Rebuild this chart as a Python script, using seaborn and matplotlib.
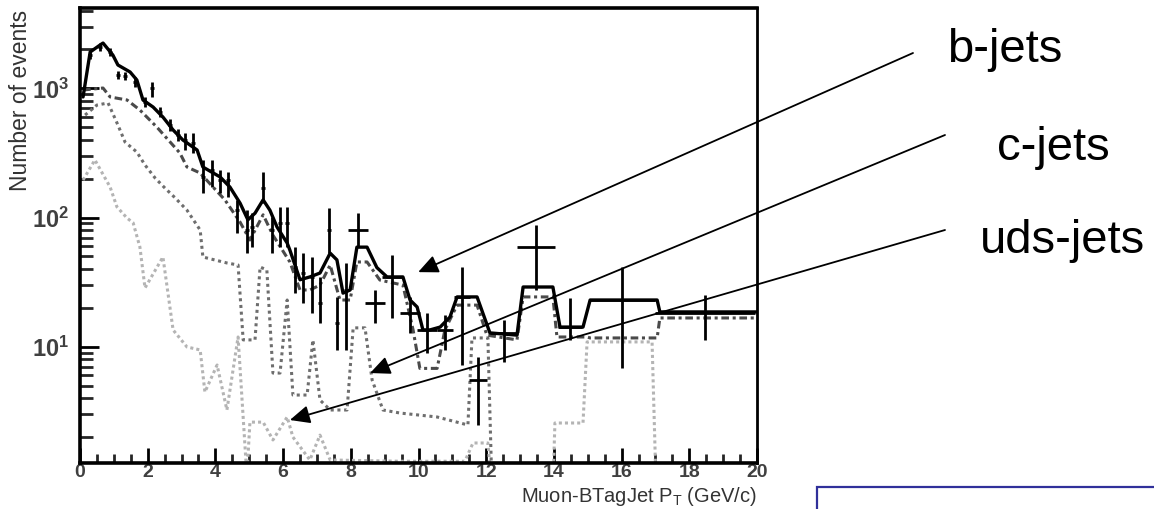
import numpy as np
import pandas as pd
import matplotlib
matplotlib.use("Agg")
import matplotlib.pyplot as plt
import matplotlib.ticker as mticker
from matplotlib.patches import Rectangle
import seaborn as sns

# ---------------- data ----------------
total_x = [0.09, 0.30, 0.59, 0.68, 0.97, 1.12, 1.48, 1.68, 1.86, 2.16, 2.45, 2.75, 3.04, 3.46,
           3.63, 4.14, 4.43, 4.73, 4.96, 5.17, 5.41, 5.61, 5.82, 6.12, 6.20, 6.50, 6.79, 7.09,
           7.39, 7.59, 7.77, 7.98, 8.18, 8.48, 8.77, 9.07, 9.54, 9.75, 9.96, 10.13, 10.34,
           10.64, 10.93, 11.14, 11.73, 12.11, 12.91, 13.09, 13.97, 14.18, 14.86, 15.07,
           17.05, 17.13, 20.0]
total_y = [857, 1910, 2160, 2240, 1810, 1515, 1337, 1159, 812, 716, 599, 476, 398, 333,
           246, 206, 172, 129, 96, 108, 137, 114, 84.5, 63.5, 56, 33, 34.7, 37.2,
           53, 47, 26, 27.5, 59, 59, 41, 34.7, 34.7, 23, 20.3, 13.5, 13.5,
           14.2, 17, 24.3, 24.3, 12.8, 12.3, 29, 29, 14.2, 14.2, 23,
           23, 18.6, 18.6]

b_x = [0.09, 0.68, 0.89, 1.39, 1.77, 2.27, 2.95, 3.16, 3.55, 3.93, 4.28, 4.73, 5.02, 5.41,
       5.70, 6.20, 6.50, 6.79, 7.09, 7.39, 7.68, 7.98, 8.18, 8.48, 8.86, 9.54, 9.84, 10.04,
       10.55, 10.78, 11.14, 11.73, 12.02, 12.91, 13.09, 13.97, 14.09, 14.98, 15.07, 17.05,
       17.13, 20.0]
b_y = [970, 1005, 857, 812, 679, 501, 316, 246, 221, 172, 137, 92, 67, 105,
       73, 45.3, 27.5, 27.5, 30, 42.9, 23, 23, 45.3, 45.3, 32.8, 30, 13.5, 6.8,
       6.8, 13.5, 21, 21, 12.3, 11.3, 24.3, 24.3, 11.9, 11.9, 11.7, 11.7,
       16.7, 16.7]

c_x = [0.15, 0.50, 0.83, 1.12, 1.33, 1.68, 1.92, 2.22, 2.51, 2.81, 3.16, 3.55, 3.63, 4.34,
       4.67, 4.82, 5.17, 5.32, 5.52, 5.70, 5.91, 6.12, 6.29, 6.71, 6.88, 7.09, 7.39, 7.89,
       8.07, 8.42, 8.63, 8.95, 9.45, 10.55, 11.46, 11.58, 12.05, 12.17]
c_y = [621, 742, 770, 520, 384, 321, 255, 202, 169, 142, 114, 80, 49.5, 44.5,
       42.9, 11.3, 11.3, 41.4, 39.3, 6.26, 6.26, 23, 4.23, 4.23, 11.3, 3.87, 3.24, 3.24,
       14, 14, 5.53, 3.24, 3.07, 2.86, 2.48, 11.7, 11.7, 0.8]

uds_x = [0.09, 0.44, 0.89, 1.09, 1.39, 1.57, 1.77, 1.92, 2.45, 2.75, 3.16, 3.55, 3.69, 4.05,
         4.34, 4.67, 4.93, 5.02, 5.41, 5.70, 6.12, 6.29, 6.79, 7.09, 7.39, 9.45, 11.37, 11.61,
         12.05, 12.17, 13.97, 14.03, 14.86, 14.98, 16.90, 17.02, 20.0]
uds_y = [195, 279, 172, 121, 99, 91, 59, 28.5, 49.5, 13.5, 9.96, 9.45, 4.46, 7.22,
         3.24, 11.9, 1.0, 2.61, 2.61, 1.90, 2.86, 2.0, 1.33, 2.07, 1.33, 1.30, 1.30, 1.80,
         1.80, 0.8, 0.8, 2.57, 2.57, 10.9, 10.9, 0.8, 0.8]

pt_x = [0.30, 0.59, 0.89, 1.12, 1.33, 1.62, 1.92, 2.13, 2.36, 2.66, 2.90, 3.10, 3.34, 3.63,
        3.90, 4.14, 4.37, 4.64, 4.93, 5.08, 5.41, 5.67, 5.91, 6.12, 6.35, 6.59, 6.85, 7.09,
        7.36, 7.59, 7.86, 8.21, 8.71, 9.22, 9.75, 10.25, 10.78, 11.29, 11.76, 12.53, 13.47,
        14.48, 16.01, 18.46]
pt_y = [1810, 2090, 1910, 1270, 1245, 1120, 785, 1005, 656, 520, 435, 398, 378, 206,
        233, 195, 195, 114, 80, 84.5, 169, 80, 91, 91, 41.4, 37.2, 34.7, 21.8,
        80, 15.3, 27.5, 80, 21.8, 34.7, 18.2, 13.5, 13.5, 24.3, 5.53, 12.8, 59,
        14.2, 23, 18.2]
pt_lo = [1700, 1960, 1790, 1180, 1150, 1030, 720, 857, 600, 470, 390, 333, 316, 155,
         172, 155, 144, 76, 53, 59, 129, 53, 59, 59, 26.1, 21.8, 18.2, 15.3,
         53, 9.45, 9.45, 59, 15.3, 16.7, 12.8, 8.95, 9.45, 7.22, 2.48, 7.62, 27.5,
         11.3, 6.84, 11.3]
pt_hi = [1930, 2230, 2040, 1370, 1345, 1215, 860, 1119, 715, 575, 485, 451, 451, 279,
         279, 233, 225, 137, 114, 108, 225, 101, 121, 121, 59, 53, 49.5, 34.7,
         118, 24.3, 44.5, 108, 27.5, 51, 24.3, 18.2, 17.6, 41.4, 8.34, 16.1, 87.5,
         23.8, 41.4, 25.1]
pt_xerr = [0.05, 0.05, 0.05, 0.05, 0.05, 0.05, 0.05, 0.05, 0.05, 0.05, 0.05, 0.05, 0.05, 0.05,
           0.05, 0.05, 0.05, 0.05, 0.05, 0.05, 0.05, 0.05, 0.05, 0.05, 0.05, 0.05, 0.05, 0.05,
           0.05, 0.05, 0.05, 0.30, 0.30, 0.30, 0.30, 0.30, 0.24, 0.24, 0.27, 0.41, 0.56,
           0.35, 0.97, 1.48]

x_ticks = [0, 2, 4, 6, 8, 10, 12, 14, 16, 18, 20]
labels_jets = ["b-jets", "c-jets", "uds-jets"]

# ---------------- style ----------------
sns.set_style("white")
plt.rcParams["font.family"] = ["Liberation Sans", "DejaVu Sans"]
plt.rcParams["mathtext.fontset"] = "custom"
plt.rcParams["mathtext.rm"] = "Liberation Sans"
plt.rcParams["mathtext.it"] = "Liberation Sans:italic"
plt.rcParams["mathtext.bf"] = "Liberation Sans:bold"

W, H = 1154, 509
fig = plt.figure(figsize=(W / 100, H / 100), dpi=100)
ax = fig.add_axes([80 / W, 46 / H, 677 / W, 455 / H])

# component histograms
sns.lineplot(x=uds_x, y=uds_y, ax=ax, sort=False, estimator=None, color="#b4b4b4",
             lw=2.2, linestyle=(0, (1.0, 1.0)))
sns.lineplot(x=c_x, y=c_y, ax=ax, sort=False, estimator=None, color="#6e6e6e",
             lw=2.2, linestyle=(0, (1.0, 1.2)))
sns.lineplot(x=b_x, y=b_y, ax=ax, sort=False, estimator=None, color="#4a4a4a",
             lw=2.2, linestyle=(0, (2.5, 1.2, 1.0, 1.2)))
# total
sns.lineplot(x=total_x, y=total_y, ax=ax, sort=False, estimator=None, color="black", lw=2.4)

# data points with error bars
pt_x_a = np.array(pt_x)
pt_y_a = np.array(pt_y)
yerr = [pt_y_a - np.array(pt_lo), np.array(pt_hi) - pt_y_a]
ax.errorbar(pt_x_a, pt_y_a, yerr=yerr, xerr=pt_xerr, fmt="none", ecolor="black",
            elinewidth=2.0, capsize=0, zorder=5)

ax.set_yscale("log")
ax.set_xlim(0, 20)
ax.set_ylim(1.26, 4183)

ax.set_xticks(x_ticks)
ax.xaxis.set_minor_locator(mticker.MultipleLocator(0.5))
ax.yaxis.set_major_locator(mticker.LogLocator(base=10, numticks=10))
ax.yaxis.set_minor_locator(mticker.LogLocator(base=10, subs=np.arange(2, 10), numticks=20))
ax.yaxis.set_minor_formatter(mticker.NullFormatter())
ax.yaxis.set_major_formatter(mticker.FuncFormatter(
    lambda v, pos: r"$\mathbf{10}^{\mathbf{%d}}$" % int(round(np.log10(v)))))

ax.tick_params(axis="x", which="major", direction="in", length=11, width=2.0,
               labelsize=14, pad=1, colors="black", labelcolor="#404040",
               top=False, bottom=True)
ax.tick_params(axis="x", which="minor", direction="in", length=6.5, width=2.0,
               top=False, bottom=True)
ax.tick_params(axis="y", which="major", direction="in", length=14, width=2.0,
               labelsize=17, pad=8, colors="black", labelcolor="#404040",
               left=True, right=False)
ax.tick_params(axis="y", which="minor", direction="in", length=9, width=2.0,
               left=True, right=False)
for lbl in ax.get_xticklabels():
    lbl.set_fontweight("bold")

for side in ["left", "bottom", "top", "right"]:
    ax.spines[side].set_visible(True)
    ax.spines[side].set_color("black")
ax.spines["left"].set_linewidth(2.6)
ax.spines["bottom"].set_linewidth(2.6)
ax.spines["top"].set_linewidth(2.6)
ax.spines["right"].set_linewidth(2.0)

ax.set_xlabel("Muon-BTagJet P$_\\mathregular{T}$ (GeV/c)", fontsize=14.5, color="#333333",
              loc="right")
ax.xaxis.set_label_coords(1.0, -0.049)
ax.set_ylabel("Number of events", fontsize=16.5, color="#333333", loc="top")
ax.yaxis.set_label_coords(-0.071, 0.996)

# annotations: labels with arrows
arrow_tips = [(9.99, 37.8), (8.57, 6.26), (6.20, 2.71)]
arrow_tails = [(913 / W, 1 - 53 / H), (945 / W, 1 - 135 / H), (945 / W, 1 - 230 / H)]
for tip, tail in zip(arrow_tips, arrow_tails):
    ax.annotate("", xy=tip, xycoords="data", xytext=tail, textcoords="figure fraction",
                arrowprops=dict(arrowstyle="-|>,head_length=0.55,head_width=0.25",
                                mutation_scale=22, lw=1.3, color="black",
                                shrinkA=0, shrinkB=0),
                annotation_clip=False, zorder=10)

text_pos = [(947 / W, 1 - 62 / H), (997 / W, 1 - 160 / H), (980 / W, 1 - 253 / H)]
for lab, (tx, ty) in zip(labels_jets, text_pos):
    fig.text(tx, ty, lab, fontsize=34, va="baseline", ha="left", color="black")

# blue framed box at the bottom right
fig.add_artist(Rectangle((817 / W, -0.05), 0.3, (509 - 487) / H + 0.05,
                         transform=fig.transFigure, fill=False,
                         edgecolor="#30309a", lw=1.6))

fig.savefig("out.png", dpi=100, facecolor="white")
